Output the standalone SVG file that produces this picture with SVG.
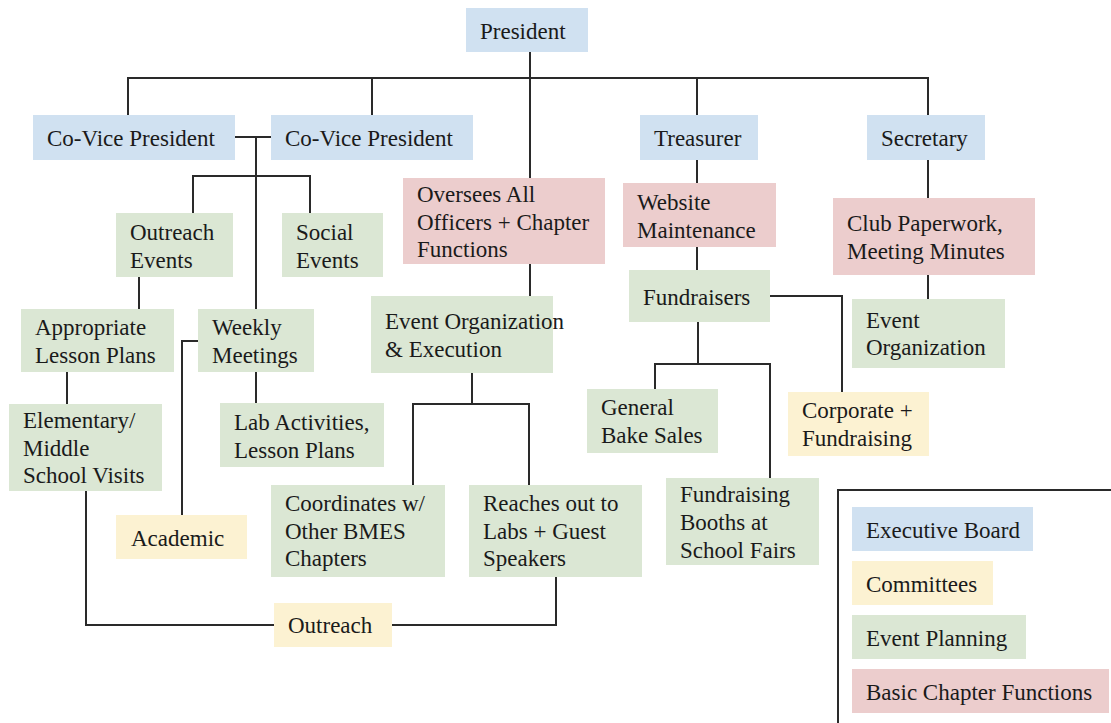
<svg xmlns="http://www.w3.org/2000/svg" width="1111" height="723" viewBox="0 0 1111 723">
<style>
text{font-size:23px;fill:#1a1a1a}
.b{fill:#d0e1f1}.y{fill:#fcf2d2}.g{fill:#dbe7d4}.r{fill:#eccdcd}
.c{fill:none;stroke:#2a2a2a;stroke-width:2}
</style>
<rect width="1111" height="723" fill="#ffffff"/>
<g id="connectors" class="c">
<path d="M530 52V178"/>
<path d="M128 115V78H928V115M372 78V115M697 78V115"/>
<path d="M235 137H271M256 137V309"/>
<path d="M193 213V176H310V213"/>
<path d="M139 277V309"/>
<path d="M67 372V404"/>
<path d="M198 341H182V515"/>
<path d="M256 372V403"/>
<path d="M530 264V296"/>
<path d="M472 373V404M413 485V404H529V485"/>
<path d="M86 491V625H274"/>
<path d="M392 625H556V577"/>
<path d="M697 160V183M697 247V270"/>
<path d="M770 296H842V392"/>
<path d="M698 322V364M655 389V364H770V478"/>
<path d="M928 160V198M928 275V299"/>
</g>
<g font-family="'Liberation Serif', 'DejaVu Serif', serif">
<g id="president"><rect class="b" x="466" y="8" width="122" height="44"/><text x="480" y="39">President</text></g>
<g id="covp1"><rect class="b" x="33" y="115" width="202" height="45"/><text x="47" y="146">Co-Vice President</text></g>
<g id="covp2"><rect class="b" x="271" y="115" width="202" height="45"/><text x="285" y="146">Co-Vice President</text></g>
<g id="treasurer"><rect class="b" x="640" y="115" width="118" height="45"/><text x="654" y="146">Treasurer</text></g>
<g id="secretary"><rect class="b" x="867" y="115" width="118" height="45"/><text x="881" y="146">Secretary</text></g>
<g id="oversees"><rect class="r" x="403" y="178" width="202" height="86"/><text x="417" y="202">Oversees All</text><text x="417" y="230">Officers + Chapter</text><text x="417" y="257">Functions</text></g>
<g id="website"><rect class="r" x="623" y="183" width="153" height="64"/><text x="637" y="210">Website</text><text x="637" y="238">Maintenance</text></g>
<g id="clubpaperwork"><rect class="r" x="833" y="198" width="202" height="77"/><text x="847" y="231">Club Paperwork,</text><text x="847" y="259">Meeting Minutes</text></g>
<g id="outreachevents"><rect class="g" x="116" y="213" width="117" height="64"/><text x="130" y="240">Outreach</text><text x="130" y="268">Events</text></g>
<g id="socialevents"><rect class="g" x="282" y="213" width="101" height="64"/><text x="296" y="240">Social</text><text x="296" y="268">Events</text></g>
<g id="fundraisers"><rect class="g" x="629" y="270" width="141" height="52"/><text x="643" y="305">Fundraisers</text></g>
<g id="eventorgexec"><rect class="g" x="371" y="296" width="182" height="77"/><text x="385" y="329">Event Organization</text><text x="385" y="357">&amp; Execution</text></g>
<g id="eventorganization"><rect class="g" x="852" y="299" width="153" height="69"/><text x="866" y="328">Event</text><text x="866" y="355">Organization</text></g>
<g id="appropriate"><rect class="g" x="21" y="309" width="153" height="63"/><text x="35" y="335">Appropriate</text><text x="35" y="363">Lesson Plans</text></g>
<g id="weekly"><rect class="g" x="198" y="309" width="116" height="63"/><text x="212" y="335">Weekly</text><text x="212" y="363">Meetings</text></g>
<g id="bakesales"><rect class="g" x="587" y="389" width="131" height="64"/><text x="601" y="415">General</text><text x="601" y="443">Bake Sales</text></g>
<g id="corporate"><rect class="y" x="788" y="392" width="141" height="64"/><text x="802" y="418">Corporate +</text><text x="802" y="446">Fundraising</text></g>
<g id="elementary"><rect class="g" x="9" y="404" width="153" height="87"/><text x="23" y="428">Elementary/</text><text x="23" y="456">Middle</text><text x="23" y="483">School Visits</text></g>
<g id="labactivities"><rect class="g" x="220" y="403" width="164" height="64"/><text x="234" y="430">Lab Activities,</text><text x="234" y="458">Lesson Plans</text></g>
<g id="booths"><rect class="g" x="666" y="478" width="153" height="87"/><text x="680" y="502">Fundraising</text><text x="680" y="530">Booths at</text><text x="680" y="558">School Fairs</text></g>
<g id="coordinates"><rect class="g" x="271" y="485" width="174" height="92"/><text x="285" y="511">Coordinates w/</text><text x="285" y="539">Other BMES</text><text x="285" y="566">Chapters</text></g>
<g id="reaches"><rect class="g" x="469" y="485" width="173" height="92"/><text x="483" y="511">Reaches out to</text><text x="483" y="539">Labs + Guest</text><text x="483" y="566">Speakers</text></g>
<g id="academic"><rect class="y" x="116" y="515" width="131" height="44"/><text x="131" y="546">Academic</text></g>
<g id="outreach"><rect class="y" x="274" y="603" width="118" height="44"/><text x="288" y="633">Outreach</text></g>
<g id="legend">
<rect x="838" y="490" width="300" height="300" fill="none" stroke="#2a2a2a" stroke-width="2"/>
<rect class="b" x="852" y="507" width="181" height="44"/><text x="866" y="538">Executive Board</text>
<rect class="y" x="852" y="561" width="141" height="44"/><text x="866" y="592">Committees</text>
<rect class="g" x="852" y="615" width="174" height="44"/><text x="866" y="646">Event Planning</text>
<rect class="r" x="852" y="669" width="257" height="44"/><text x="866" y="700">Basic Chapter Functions</text>
</g>
</g>
</svg>
